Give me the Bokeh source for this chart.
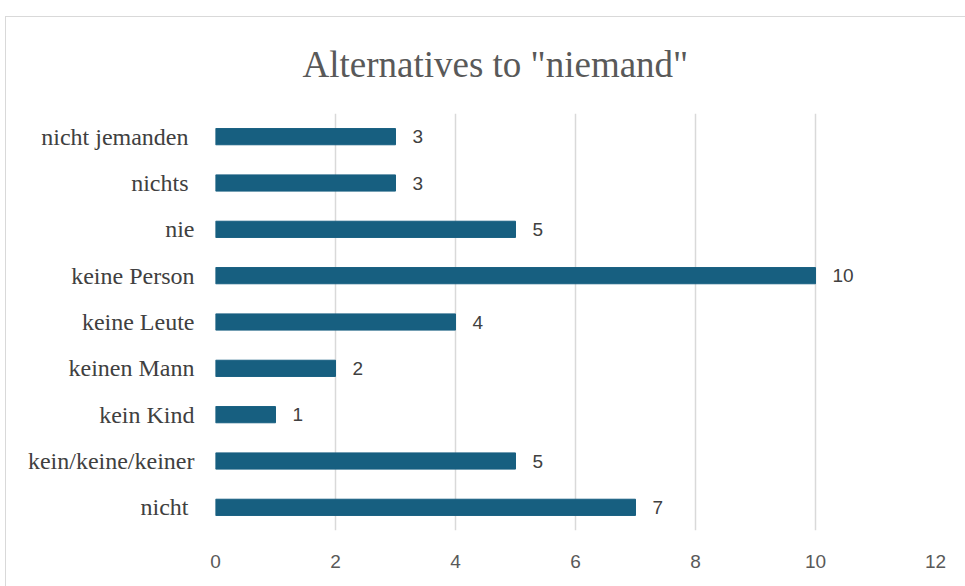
from bokeh.plotting import figure
from bokeh.models import ColumnDataSource, Range1d, FactorRange, LabelSet, FixedTicker, InlineStyleSheet
from bokeh.core.properties import value
from bokeh.embed import file_html
from bokeh.resources import INLINE

categories = ["nicht ", "kein/keine/keiner", "kein Kind", "keinen Mann", "keine Leute",
              "keine Person", "nie", "nichts ", "nicht jemanden "]
counts = [7, 5, 1, 2, 4, 10, 5, 3, 3]
x_ticks = [0, 2, 4, 6, 8, 10, 12]
title_text = 'Alternatives to "niemand"'

src = ColumnDataSource(dict(cat=categories, val=counts, lab=[str(v) for v in counts]))

frame_css = InlineStyleSheet(css="""
:host::after {
  content: "";
  position: absolute;
  left: 5px; top: 16px; right: -20px; bottom: -20px;
  border-left: 1.5px solid #d9d9d9;
  border-top: 1.5px solid #d9d9d9;
  pointer-events: none;
}
""")

p = figure(width=965, height=586, output_backend="svg", toolbar_location=None,
           y_range=FactorRange(*categories, range_padding=0), x_range=Range1d(0, 12),
           min_border_left=215, min_border_right=30, min_border_top=113, min_border_bottom=56,
           stylesheets=[frame_css])
p.outline_line_color = None
p.background_fill_color = "white"
p.border_fill_color = "white"

p.title.text = title_text
p.title.align = "left"
p.title.offset = 87
p.title.standoff = 57
p.title.text_font = "Liberation Serif"
p.title.text_font_size = "37px"
p.title.text_font_style = "normal"
p.title.text_color = "#595959"

p.hbar(y="cat", right="val", left=0, height=0.35, source=src, color="#175f80")

labels = LabelSet(x="val", y="cat", text="lab", source=src, x_offset=17,
                  text_baseline="middle", text_align="left", text_font_size="19px",
                  text_font=value("Liberation Sans"), text_color="#404040")
p.add_layout(labels)

p.xaxis.ticker = FixedTicker(ticks=x_ticks)
p.xaxis.axis_line_color = None
p.xaxis.major_tick_line_color = None
p.xaxis.minor_tick_line_color = None
p.xaxis.major_label_standoff = 18
p.xaxis.major_label_text_font = "Liberation Sans"
p.xaxis.major_label_text_font_size = "19px"
p.xaxis.major_label_text_color = "#595959"

p.yaxis.axis_line_color = None
p.yaxis.major_tick_line_color = None
p.yaxis.major_tick_out = 0
p.yaxis.major_label_standoff = 21
p.yaxis.major_label_text_font = "Liberation Serif"
p.yaxis.major_label_text_font_size = "24px"
p.yaxis.major_label_text_color = "#404040"

p.ygrid.grid_line_color = None
p.xgrid.ticker = FixedTicker(ticks=x_ticks)
p.xgrid.grid_line_color = "#d9d9d9"
p.xgrid.grid_line_width = 1.5

open("out.html", "w").write(file_html(p, INLINE))
